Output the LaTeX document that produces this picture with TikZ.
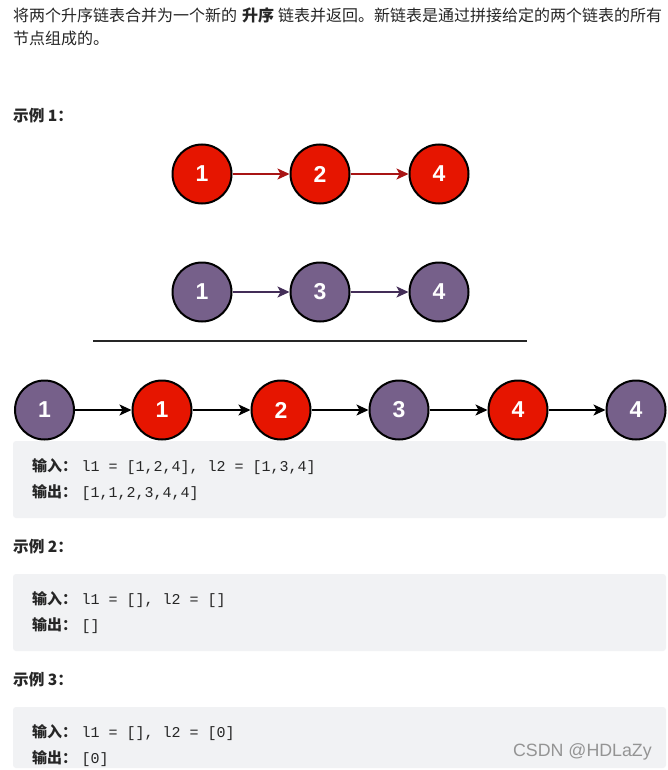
\documentclass[tikz,border=0pt]{standalone}
\usepackage{fontspec}
\setmainfont{Noto Sans CJK SC}
\setsansfont{Liberation Sans}
\setmonofont{Liberation Mono}
\usetikzlibrary{arrows.meta}
\definecolor{redfill}{HTML}{E61500}
\definecolor{redline}{HTML}{A81414}
\definecolor{purplefill}{HTML}{76608A}
\definecolor{purpleline}{HTML}{432D57}
\definecolor{codebg}{HTML}{F1F2F4}
\definecolor{textcol}{HTML}{262626}
\tikzset{
	listnode/.style={circle,draw=black,line width=2pt,minimum size=59pt,inner sep=0pt,text=white,font=\sffamily\bfseries\fontsize{23}{23}\selectfont},
	rednode/.style={listnode,fill=redfill},
	purplenode/.style={listnode,fill=purplefill},
	redlink/.style={-{Stealth[length=12pt,width=11pt,inset=3pt]},line width=1.6pt,draw=redline},
	purplelink/.style={-{Stealth[length=12pt,width=11pt,inset=3pt]},line width=1.6pt,draw=purpleline},
	blacklink/.style={-{Stealth[length=12pt,width=11pt,inset=3pt]},line width=1.6pt,draw=black},
	para/.style={anchor=west,inner sep=0pt,text=textcol,font=\fontsize{16}{18}\selectfont},
	title/.style={anchor=west,inner sep=0pt,text=textcol,font=\bfseries\fontsize{15.6}{18}\selectfont},
	codeline/.style={anchor=west,inner sep=0pt,text=textcol,font=\fontsize{15}{16}\selectfont},
	codebox/.style={fill=codebg,rounded corners=3pt}
}
\newcommand{\inlabel}{{\bfseries 输入：}\hspace{4.5pt}}
\newcommand{\outlabel}{{\bfseries 输出：}\hspace{4.5pt}}
\begin{document}
\begin{tikzpicture}[x=1pt,y=-1pt]
	\useasboundingbox (0,0) rectangle (667,770);
	\fill[white] (0,0) rectangle (667,770);

	% text above
	\node[para] (line1) at (13,15) {将两个升序链表合并为一个新的\hspace{5pt}{\bfseries 升序}\hspace{4pt}链表并返回。新链表是通过拼接给定的两个链表的所有};
	\node[para] (line2) at (13,38) {节点组成的。};
	\node[title] (ex1) at (13,116) {示例 1：};

	% first list
	\node[rednode] (a1) at (202,174) {1};
	\node[rednode] (a2) at (320,174) {2};
	\node[rednode] (a3) at (439,174) {4};
	\draw[redlink] (a1) -- (a2);
	\draw[redlink] (a2) -- (a3);

	% second list
	\node[purplenode] (b1) at (202,292) {1};
	\node[purplenode] (b2) at (320,292) {3};
	\node[purplenode] (b3) at (439,292) {4};
	\draw[purplelink] (b1) -- (b2);
	\draw[purplelink] (b2) -- (b3);

	\coordinate (ruleL) at (93,341);
	\coordinate (ruleR) at (527,341);
	\draw[line width=1.8pt,draw=black!85] (ruleL) -- (ruleR);

	% code boxes
	\path[codebox] (13,441) rectangle (666,518);
	\path[codebox] (13,574) rectangle (666,651);
	\path[codebox] (13,707) rectangle (666,768);

	% merged list
	\node[purplenode] (c1) at (44.5,410) {1};
	\node[rednode] (c2) at (162,410) {1};
	\node[rednode] (c3) at (281,410) {2};
	\node[purplenode] (c4) at (399,410) {3};
	\node[rednode] (c5) at (518,410) {4};
	\node[purplenode] (c6) at (636,410) {4};
	\draw[blacklink] (c1) -- (c2);
	\draw[blacklink] (c2) -- (c3);
	\draw[blacklink] (c3) -- (c4);
	\draw[blacklink] (c4) -- (c5);
	\draw[blacklink] (c5) -- (c6);

	\node[codeline] (in1) at (32,467) {\inlabel\texttt{l1 = [1,2,4], l2 = [1,3,4]}};
	\node[codeline] (out1) at (32,493) {\outlabel\texttt{[1,1,2,3,4,4]}};
	\node[title] (ex2) at (13,547) {示例 2：};
	\node[codeline] (in2) at (32,600) {\inlabel\texttt{l1 = [], l2 = []}};
	\node[codeline] (out2) at (32,626) {\outlabel\texttt{[]}};
	\node[title] (ex3) at (13,680) {示例 3：};
	\node[codeline] (in3) at (32,733) {\inlabel\texttt{l1 = [], l2 = [0]}};
	\node[codeline] (out3) at (32,759) {\outlabel\texttt{[0]}};

	\node[anchor=east,inner sep=0pt,text=black!42,font=\sffamily\fontsize{17.8}{20}\selectfont] (mark) at (652,752) {CSDN @HDLaZy};
\end{tikzpicture}
\end{document}
